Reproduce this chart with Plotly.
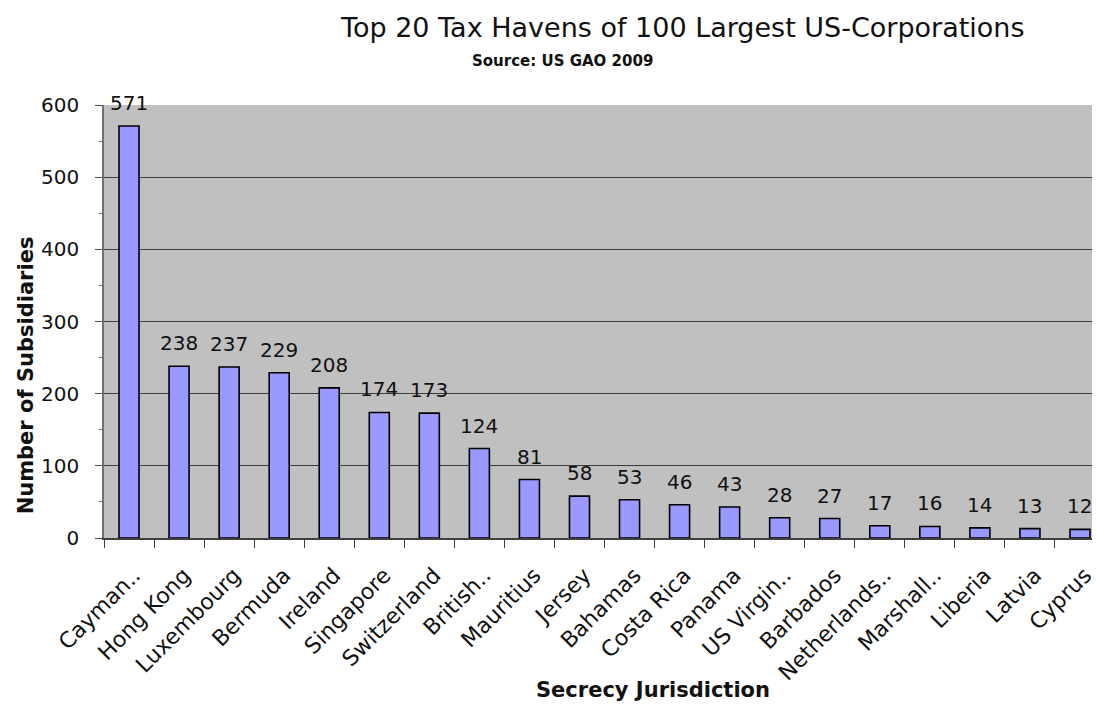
import plotly.graph_objects as go

# Jurisdictions (truncated names as they appear on the axis) and subsidiary counts
jurisdictions = [
    "Cayman..", "Hong Kong", "Luxembourg", "Bermuda", "Ireland", "Singapore",
    "Switzerland", "British..", "Mauritius", "Jersey", "Bahamas", "Costa Rica",
    "Panama", "US Virgin..", "Barbados", "Netherlands..", "Marshall..",
    "Liberia", "Latvia", "Cyprus",
]
subsidiaries = [571, 238, 237, 229, 208, 174, 173, 124, 81, 58, 53, 46, 43,
                28, 27, 17, 16, 14, 13, 12]

y_ticks = [0, 100, 200, 300, 400, 500, 600]

FONT = "DejaVu Sans"
TEXT = "#111111"

fig = go.Figure()
fig.add_trace(go.Bar(
    x=jurisdictions,
    y=subsidiaries,
    width=0.4,
    marker=dict(color="#9999FF", line=dict(color="#000000", width=1.6)),
    hoverinfo="x+y",
))

# value labels above each bar
annotations = []
for name, val in zip(jurisdictions, subsidiaries):
    annotations.append(dict(
        x=name, y=val, xref="x", yref="y",
        text=str(val), showarrow=False,
        yanchor="bottom", yshift=9,
        font=dict(family=FONT, size=20, color=TEXT),
    ))

# chart title, source line and axis titles
annotations.append(dict(
    xref="paper", yref="paper", x=(685 - 104) / 992, y=(538 - 27) / 433,
    xanchor="center", yanchor="middle", showarrow=False,
    text="Top 20 Tax Havens of 100 Largest US-Corporations",
    font=dict(family=FONT, size=27, color=TEXT),
))
annotations.append(dict(
    xref="paper", yref="paper", x=(564 - 104) / 992, y=(538 - 61) / 433,
    xanchor="center", yanchor="middle", showarrow=False,
    text="<b>Source: US GAO 2009</b>",
    font=dict(family=FONT, size=15, color=TEXT),
))
annotations.append(dict(
    xref="paper", yref="paper", x=(655 - 104) / 992, y=(538 - 690) / 433,
    xanchor="center", yanchor="middle", showarrow=False,
    text="<b>Secrecy Jurisdiction</b>",
    font=dict(family=FONT, size=21, color=TEXT),
))
annotations.append(dict(
    xref="paper", yref="paper", x=(26 - 104) / 992, y=(538 - 375) / 433,
    xanchor="center", yanchor="middle", showarrow=False, textangle=-90,
    text="<b>Number of Subsidiaries</b>",
    font=dict(family=FONT, size=21, color=TEXT),
))

fig.update_layout(
    width=1096, height=704,
    margin=dict(l=104, r=0, t=105, b=166, pad=0),
    paper_bgcolor="#FFFFFF",
    plot_bgcolor="#C0C0C0",
    showlegend=False,
    annotations=annotations,
    bargap=0.6,
)

fig.update_xaxes(
    type="category",
    range=[-0.5, 19.24],
    tickson="boundaries",
    ticks="outside", ticklen=8, tickcolor="#404040", tickwidth=1,
    showline=True, linecolor="#404040", linewidth=1.5,
    showgrid=False,
    tickangle=-45,
    ticklabelstandoff=14,
    ticklabelshift=5,
    tickfont=dict(family=FONT, size=22, color=TEXT),
)

fig.update_yaxes(
    range=[0, 600],
    tickvals=y_ticks,
    ticks="outside", ticklen=7, tickcolor="#505050", tickwidth=1,
    ticklabelstandoff=12,
    showline=True, linecolor="#707070", linewidth=1.5,
    showgrid=True, gridcolor="#3C3C3C", gridwidth=1,
    zeroline=False,
    minor=dict(dtick=50, ticks="outside", ticklen=3, tickcolor="#707070", showgrid=False),
    tickfont=dict(family=FONT, size=20, color=TEXT),
)

fig.write_html("out.html")
